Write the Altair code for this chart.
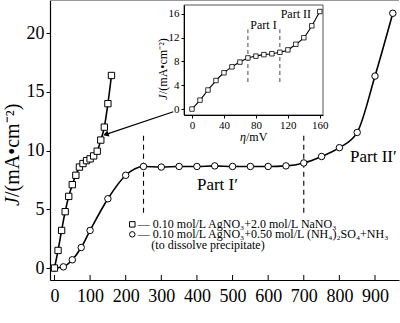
import altair as alt
import pandas as pd

FONT = "Liberation Serif"

# ---- data ----
sq_eta = [0, 10, 20, 30, 40, 50, 60, 70, 80, 90, 100, 110, 120, 130, 140, 150, 160]
sq_j = [0, 1.5, 3.2, 4.8, 6.1, 7.1, 7.9, 8.6, 8.9, 9.15, 9.3, 9.55, 9.95, 10.9, 12.0, 14.0, 16.4]

ci_eta = [0, 25, 50, 75, 100, 150, 200, 250, 300, 350, 400, 450, 500, 550, 600, 650, 700, 750, 800, 850, 900, 950]
ci_j = [0, 0.1, 0.7, 1.75, 3.2, 5.9, 7.9, 8.65, 8.6, 8.65, 8.65, 8.7, 8.65, 8.65, 8.65, 8.7, 8.95, 9.5, 10.25, 11.55, 16.35, 21.7]

main_xticks = [0, 100, 200, 300, 400, 500, 600, 700, 800, 900]
main_yticks = [0, 5, 10, 15, 20]
inset_xticks = [0, 40, 80, 120, 160]
inset_yticks = [0, 4, 8, 12, 16]

main_dash_eta = [250, 700]
main_dash_lo, main_dash_hi = 4.7, 11.5
inset_dash_eta = [70, 110]
inset_dash_lo, inset_dash_hi = 4.55, 13.4

legend_lines = [
    "— 0.10 mol/L AgNO₃+2.0 mol/L NaNO₃",
    "— 0.10 mol/L AgNO₃+0.50 mol/L (NH₄)₂SO₄+NH₃",
    "(to dissolve precipitate)",
]

sq_df = pd.DataFrame({"eta": sq_eta, "j": sq_j})
ci_df = pd.DataFrame({"eta": ci_eta, "j": ci_j})

mx = alt.Scale(domain=[-12.6, 967.4], nice=False, zero=False)
my = alt.Scale(domain=[-1.02, 22.83], nice=False, zero=False)

# ---- main panel ----
axis_x = alt.Axis(values=main_xticks, ticks=False, labelPadding=7, labelFont=FONT,
                  labelFontSize=18, labelColor="black", domainColor="black",
                  labelOverlap=False, labelFlush=False,
                  domainWidth=1.2, grid=False, title=None)
axis_y = alt.Axis(values=main_yticks, tickSize=4, tickColor="black", labelPadding=2,
                  labelFont=FONT, labelFontSize=18, labelColor="black",
                  labelOverlap=False, labelFlush=False,
                  domainColor="black", domainWidth=1.2, grid=False, title=None)


def MX(f="eta"):
    return alt.X(f"{f}:Q", scale=mx, axis=axis_x)


def MY(f="j"):
    return alt.Y(f"{f}:Q", scale=my, axis=axis_y)


ci_line = alt.Chart(ci_df).mark_line(color="black", strokeWidth=1.6, interpolate="monotone").encode(
    x=MX(), y=MY())
sq_line = alt.Chart(sq_df).mark_line(color="black", strokeWidth=1.6, interpolate="monotone").encode(
    x=MX(), y=MY())
ci_pts = alt.Chart(ci_df).mark_point(shape="circle", size=42, filled=True, fill="white",
                                     stroke="black", strokeWidth=1, opacity=1).encode(x=MX(), y=MY())
sq_pts = alt.Chart(sq_df).mark_point(shape="square", size=40, filled=True, fill="white",
                                     stroke="black", strokeWidth=1, opacity=1).encode(x=MX(), y=MY())

xtick_df = pd.DataFrame({"eta": main_xticks})
xticks_in = alt.Chart(xtick_df).mark_rule(color="black", strokeWidth=1).encode(
    x=MX(), y=alt.value(280), y2=alt.value(275))

top_border = alt.Chart(pd.DataFrame({"k": [0]})).mark_rule(color="#999", strokeWidth=1).encode(
    x=alt.value(0), x2=alt.value(349), y=alt.value(0.5))

mdash_df = pd.DataFrame({"eta": main_dash_eta, "lo": [main_dash_lo] * 2, "hi": [main_dash_hi] * 2})
mdash = alt.Chart(mdash_df).mark_rule(color="black", strokeWidth=1.1, strokeDash=[5, 4]).encode(
    x=MX(), y=MY("lo"), y2="hi:Q")

arrow_df = pd.DataFrame({"eta": [333.6, 146.6], "j": [13.31, 11.41]})
arrow_line = alt.Chart(arrow_df).mark_line(color="black", strokeWidth=1.2).encode(x=MX(), y=MY())
arrow_head = alt.Chart(arrow_df.iloc[[1]]).mark_point(shape="triangle", size=40, filled=True,
                                                       color="black", opacity=1, angle=251).encode(
    x=MX(), y=MY())

part_df = pd.DataFrame({"eta": [400, 830], "j": [7.07, 9.45], "t": ["Part I′", "Part II′"]})
part_txt = alt.Chart(part_df).mark_text(font=FONT, fontSize=17, align="left", baseline="middle",
                                        color="black").encode(x=MX(), y=MY(), text="t:N")

leg_sym_df = pd.DataFrame({"eta": [218.5, 218.5], "j": [3.72, 2.87]})
leg_sq = alt.Chart(leg_sym_df.iloc[[0]]).mark_point(shape="square", size=30, filled=True, fill="white",
                                                     stroke="black", strokeWidth=1, opacity=1).encode(
    x=MX(), y=MY())
leg_ci = alt.Chart(leg_sym_df.iloc[[1]]).mark_point(shape="circle", size=30, filled=True, fill="white",
                                                     stroke="black", strokeWidth=1, opacity=1).encode(
    x=MX(), y=MY())
leg_txt_df = pd.DataFrame({"eta": [234, 234, 272], "j": [3.72, 2.87, 1.96], "t": legend_lines})
leg_txt = alt.Chart(leg_txt_df).mark_text(font=FONT, fontSize=12, align="left", baseline="middle",
                                          color="black").encode(x=MX(), y=MY(), text="t:N")

# axis titles with italic symbols
ttl = pd.DataFrame({"k": [0]})
yt_j = alt.Chart(ttl).mark_text(text="J", font=FONT, fontSize=20, fontStyle="italic", angle=270,
                                align="left", baseline="middle", color="black").encode(
    x=alt.value(-37), y=alt.value(206))
yt_r = alt.Chart(ttl).mark_text(text="/(mA•cm⁻²)", font=FONT, fontSize=20, angle=270,
                                align="left", baseline="middle", color="black").encode(
    x=alt.value(-37), y=alt.value(197))
xt_e = alt.Chart(ttl).mark_text(text="η", font=FONT, fontSize=20, fontStyle="italic",
                                align="left", baseline="middle", color="black").encode(
    x=alt.value(157), y=alt.value(32))
xt_r = alt.Chart(ttl).mark_text(text=" /mV", font=FONT, fontSize=19,
                                align="left", baseline="middle", color="black").encode(
    x=alt.value(166), y=alt.value(32))

main = alt.layer(ci_line, xticks_in, top_border, mdash, sq_line, arrow_line, arrow_head, ci_pts, sq_pts,
                 part_txt, leg_sq, leg_ci, leg_txt, yt_j, yt_r, xt_e, xt_r)

# ---- inset panel ----
ix = alt.Scale(domain=[-10, 164], range=[134, 273], nice=False, zero=False)
iy = alt.Scale(domain=[-1, 17.5], range=[115, 5], nice=False, zero=False)

iaxis_x = alt.Axis(orient="bottom", offset=-165, values=inset_xticks, tickSize=3, tickColor="black",
                   labelPadding=1, labelFont=FONT, labelFontSize=11, labelColor="black",
                   labelOverlap=False, labelFlush=False,
                   domainColor="black", grid=False, zindex=2, title=None)
iaxis_y = alt.Axis(orient="left", offset=-134, values=inset_yticks, tickSize=3, tickColor="black",
                   labelPadding=2, labelFont=FONT, labelFontSize=11, labelColor="black",
                   labelOverlap=False, labelFlush=False,
                   domainColor="black", grid=False, zindex=2, title=None)


def IX(f="eta"):
    return alt.X(f"{f}:Q", scale=ix, axis=iaxis_x)


def IY(f="j"):
    return alt.Y(f"{f}:Q", scale=iy, axis=iaxis_y)


frame_df = pd.DataFrame({"x0": [-10], "x1": [164], "y0": [-1], "y1": [17.5]})
frame = alt.Chart(frame_df).mark_rect(fill="white", stroke="#555", strokeWidth=1).encode(
    x=IX("x0"), x2="x1:Q", y=IY("y0"), y2="y1:Q")
idash_df = pd.DataFrame({"eta": inset_dash_eta, "lo": [inset_dash_lo] * 2, "hi": [inset_dash_hi] * 2})
idash = alt.Chart(idash_df).mark_rule(color="#333", strokeWidth=0.9, strokeDash=[4, 3]).encode(
    x=IX(), y=IY("lo"), y2="hi:Q")
iline = alt.Chart(sq_df).mark_line(color="black", strokeWidth=1.1, interpolate="monotone").encode(
    x=IX(), y=IY())
ipts = alt.Chart(sq_df).mark_point(shape="square", size=20, filled=True, fill="white",
                                   stroke="black", strokeWidth=0.8, opacity=1).encode(x=IX(), y=IY())
ipart_df = pd.DataFrame({"eta": [89.5, 130], "j": [14.1, 16.0], "t": ["Part I", "Part II"]})
ipart = alt.Chart(ipart_df).mark_text(font=FONT, fontSize=12, align="center", baseline="middle",
                                      color="black").encode(x=IX(), y=IY(), text="t:N")
iyt_j = alt.Chart(ttl).mark_text(text="J", font=FONT, fontSize=12, fontStyle="italic", angle=270,
                                 align="left", baseline="middle", color="black").encode(
    x=alt.value(113), y=alt.value(100))
iyt_r = alt.Chart(ttl).mark_text(text="/(mA•cm⁻²)", font=FONT, fontSize=12, angle=270,
                                 align="left", baseline="middle", color="black").encode(
    x=alt.value(113), y=alt.value(94))
ixt_e = alt.Chart(ttl).mark_text(text="η", font=FONT, fontSize=12, fontStyle="italic",
                                 align="left", baseline="middle", color="black").encode(
    x=alt.value(190), y=alt.value(137))
ixt_r = alt.Chart(ttl).mark_text(text=" /mV", font=FONT, fontSize=12,
                                 align="left", baseline="middle", color="black").encode(
    x=alt.value(196), y=alt.value(137))

inset = alt.layer(frame, idash, iline, ipts, ipart, iyt_j, iyt_r, ixt_e, ixt_r)

chart = alt.layer(main, inset).resolve_scale(x="independent", y="independent").properties(
    width=349, height=280,
    autosize=alt.AutoSizeParams(type="none"),
    padding={"left": 50, "top": 0, "right": 1, "bottom": 43},
    background="white",
).configure_view(stroke=None).configure_axis(
    labelFont=FONT, titleFont=FONT
).configure_text(font=FONT)

chart.save("out.html", embed_options={"renderer": "svg", "actions": False})
